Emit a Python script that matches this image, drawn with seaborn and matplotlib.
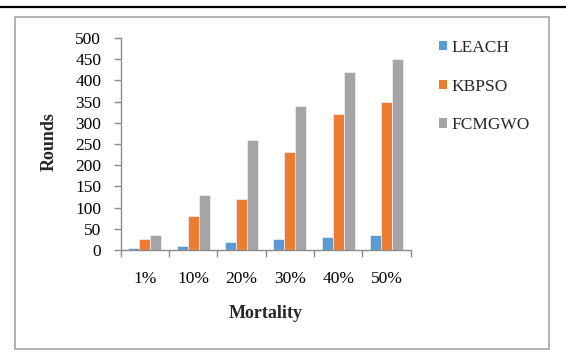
import matplotlib
matplotlib.use("Agg")
import matplotlib.pyplot as plt
from matplotlib.patches import Rectangle, Patch
from matplotlib.lines import Line2D
import seaborn as sns
import pandas as pd

mortality = ["1%", "10%", "20%", "30%", "40%", "50%"]
methods = ["LEACH", "KBPSO", "FCMGWO"]
leach = [5, 10, 20, 25, 30, 35]
kbpso = [25, 80, 120, 230, 320, 350]
fcmgwo = [35, 130, 260, 340, 420, 450]
colors = ["#5B9BD5", "#ED7D31", "#A5A5A5"]

df = pd.DataFrame({
    "Mortality": mortality * 3,
    "Method": [m for m in methods for _ in mortality],
    "Rounds": leach + kbpso + fcmgwo,
})

sns.set_theme(style="white")
plt.rcParams["font.family"] = ["Liberation Serif", "DejaVu Serif"]

W, H = 566, 358
fig = plt.figure(figsize=(W / 100, H / 100), dpi=100)
fig.patch.set_facecolor("white")

# outer chart frame and the rule above it
fig.add_artist(Rectangle((15 / W, 1 - 349 / H), (549 - 15) / W, (349 - 17) / H,
                         transform=fig.transFigure, fill=False,
                         edgecolor="#A6A6A6", linewidth=1.2))
fig.add_artist(Line2D([0, 1], [1 - 7 / H, 1 - 7 / H], transform=fig.transFigure,
                      color="black", linewidth=1.6))

ax = fig.add_axes([120.7 / W, 1 - 250 / H, 290 / W, 212 / H])
sns.barplot(data=df, x="Mortality", y="Rounds", hue="Method", palette=colors,
            saturation=1, width=0.68, edgecolor="#F2F2F2", linewidth=0.5,
            ax=ax, legend=False, errorbar=None)

ax.set_ylim(0, 500)
ax.set_xlim(-0.5, 5.5)
ax.set_yticks(range(0, 501, 50))
ax.set_facecolor("none")
for side in ["top", "right"]:
    ax.spines[side].set_visible(False)
for side in ["left", "bottom"]:
    ax.spines[side].set_color("#8C8C8C")
    ax.spines[side].set_linewidth(1.0)

ax.tick_params(axis="y", direction="out", length=5, width=1.0, color="#8C8C8C",
               pad=9, labelsize=12.5, labelcolor="black", left=True)
ax.set_xticks(range(len(mortality)))
ax.set_xticks([i - 0.5 for i in range(len(mortality) + 1)], minor=True)
ax.tick_params(axis="x", which="major", length=0, pad=15, labelsize=12.5,
               labelcolor="black")
ax.tick_params(axis="x", which="minor", direction="out", length=5, width=1.0,
               color="#8C8C8C", bottom=True)

ax.set_xlabel("")
ax.set_ylabel("")
fig.text(265.5 / W, 1 - 314 / H, "Mortality", ha="center", va="center",
         fontsize=13, fontweight="bold")
fig.text(49.5 / W, 1 - 142 / H, "Rounds", ha="center", va="center",
         rotation=90, fontsize=13, fontweight="bold")

handles = [Patch(facecolor=c, edgecolor="none") for c in colors]
fig.legend(handles, methods, loc="upper left",
           bbox_to_anchor=(432 / W, 1 - 33 / H), frameon=False,
           fontsize=12.5, handlelength=0.45, handleheight=0.45,
           handletextpad=0.25, labelspacing=1.3, borderaxespad=0)

fig.savefig("out.png", dpi=100, facecolor="white")
